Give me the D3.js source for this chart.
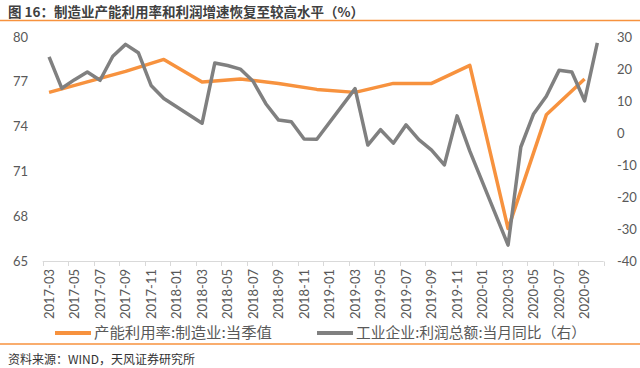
<!DOCTYPE html>
<html>
<head>
    <meta charset="utf-8">
    <style>
        body { margin: 0; background: #fff; }
        svg { display: block; }
    </style>
</head>
<body onload='init()'>
    <svg width="640" height="368"></svg>
    <script src="https://d3js.org/d3.v7.min.js"></script>
    <script>
        // months on the category axis (2017-03 .. 2020-10)
        var months = ["2017-03", "2017-04", "2017-05", "2017-06", "2017-07", "2017-08", "2017-09", "2017-10",
            "2017-11", "2017-12", "2018-01", "2018-02", "2018-03", "2018-04", "2018-05", "2018-06", "2018-07",
            "2018-08", "2018-09", "2018-10", "2018-11", "2018-12", "2019-01", "2019-02", "2019-03", "2019-04",
            "2019-05", "2019-06", "2019-07", "2019-08", "2019-09", "2019-10", "2019-11", "2019-12", "2020-01",
            "2020-02", "2020-03", "2020-04", "2020-05", "2020-06", "2020-07", "2020-08", "2020-09", "2020-10"];

        // 产能利用率:制造业:当季值 (left axis, quarterly)
        var capacity = [76.3, null, null, 77.0, null, null, 77.7, null, null, 78.5, null, null,
            77.0, null, null, 77.2, null, null, 76.9, null, null, 76.5, null, null,
            76.3, null, null, 76.9, null, null, 76.9, null, null, 78.1, null, null,
            67.2, null, null, 74.8, null, null, 77.2, null];

        // 工业企业:利润总额:当月同比 (right axis)
        var profit = [23.8, 14.0, 16.7, 19.1, 16.5, 24.0, 27.7, 25.1, 14.9, 10.8, null, null,
            3.1, 21.9, 21.1, 20.0, 16.2, 9.2, 4.1, 3.6, -1.8, -1.9, null, null,
            13.9, -3.7, 1.1, -3.1, 2.6, -2.0, -5.3, -9.9, 5.4, -5.6, null, null,
            -34.9, -4.3, 6.0, 11.5, 19.6, 19.1, 10.1, 28.2];

        var leftTicks = [65, 68, 71, 74, 77, 80];
        var rightTicks = [-40, -30, -20, -10, 0, 10, 20, 30];

        function init() {
            var svg = d3.select("svg");
            var orange = "#F7923E", grey = "#808080";
            var numFont = "Lato, 'Noto Sans', sans-serif";
            var cjkFont = "'Noto Sans CJK SC', sans-serif";

            var xScale = d3.scaleBand().domain(months).range([42.7, 603.7]);
            var yLeft = d3.scaleLinear().domain([65, 80]).range([261.5, 37]);
            var yRight = d3.scaleLinear().domain([-40, 30]).range([261.5, 37]);
            var cx = function (i) { return xScale(months[i]) + xScale.bandwidth() / 2; };

            // title + orange rules
            svg.append("text")
                .attr("x", 8).attr("y", 17)
                .style("font-family", cjkFont)
                .style("font-size", "13.5px")
                .style("font-weight", "bold")
                .style("fill", "#404040")
                .text("图 16：制造业产能利用率和利润增速恢复至较高水平（%）");

            svg.append("line").attr("x1", 0).attr("x2", 640).attr("y1", 20.5).attr("y2", 20.5)
                .style("stroke", orange).style("stroke-width", 1.5);
            svg.append("line").attr("x1", 0).attr("x2", 640).attr("y1", 344).attr("y2", 344)
                .style("stroke", orange).style("stroke-width", 1.5);

            svg.append("text")
                .attr("x", 8).attr("y", 364)
                .style("font-family", cjkFont)
                .style("font-size", "12px")
                .style("fill", "#333")
                .text("资料来源：WIND，天风证券研究所");

            // left axis labels
            svg.append("g")
                .selectAll("text")
                .data(leftTicks)
                .enter()
                .append("text")
                .attr("x", 28)
                .attr("y", function (d) { return yLeft(d); })
                .attr("dy", "0.35em")
                .attr("text-anchor", "end")
                .style("font-family", numFont)
                .style("font-size", "13px")
                .style("fill", "#595959")
                .text(function (d) { return d; });

            // right axis labels
            svg.append("g")
                .selectAll("text")
                .data(rightTicks)
                .enter()
                .append("text")
                .attr("x", 617)
                .attr("y", function (d) { return yRight(d); })
                .attr("dy", "0.35em")
                .style("font-family", numFont)
                .style("font-size", "13px")
                .style("fill", "#595959")
                .text(function (d) { return d; });

            // x axis: baseline, ticks every two months between categories
            var axisG = svg.append("g");
            axisG.append("line")
                .attr("x1", xScale.range()[0]).attr("x2", xScale.range()[1])
                .attr("y1", 261.5).attr("y2", 261.5)
                .style("stroke", "#d9d9d9").style("stroke-width", 1);

            var tickIdx = d3.range(0, months.length + 1, 2);
            axisG.selectAll(".tick")
                .data(tickIdx)
                .enter()
                .append("line")
                .attr("class", "tick")
                .attr("x1", function (i) { return Math.round(xScale.range()[0] + i * xScale.step()) + 0.5; })
                .attr("x2", function (i) { return Math.round(xScale.range()[0] + i * xScale.step()) + 0.5; })
                .attr("y1", 261.5).attr("y2", 266)
                .style("stroke", "#d9d9d9").style("stroke-width", 1);

            axisG.selectAll(".lbl")
                .data(months.filter(function (m, i) { return i % 2 === 0; }))
                .enter()
                .append("text")
                .attr("class", "lbl")
                .attr("transform", function (m) {
                    return "translate(" + (xScale(m) + xScale.bandwidth() / 2) + ",269)rotate(-90)";
                })
                .attr("dy", "0.35em")
                .attr("text-anchor", "end")
                .style("font-family", numFont)
                .style("font-size", "13px")
                .style("fill", "#595959")
                .text(function (m) { return m; });

            // lines (gaps are bridged, like the source chart)
            var capPts = [], profPts = [];
            capacity.forEach(function (v, i) { if (v !== null) capPts.push([cx(i), yLeft(v)]); });
            profit.forEach(function (v, i) { if (v !== null) profPts.push([cx(i), yRight(v)]); });

            var line = d3.line();

            svg.append("path")
                .attr("d", line(capPts))
                .style("fill", "none")
                .style("stroke", orange)
                .style("stroke-width", 3.5)
                .style("stroke-linejoin", "round");

            svg.append("path")
                .attr("d", line(profPts))
                .style("fill", "none")
                .style("stroke", grey)
                .style("stroke-width", 3.5)
                .style("stroke-linejoin", "round");

            // legend
            var legend = [
                { name: "产能利用率:制造业:当季值", color: orange, x: 55, w: 178 },
                { name: "工业企业:利润总额:当月同比（右）", color: grey, x: 317, w: 230 }
            ];
            var lg = svg.append("g").selectAll("g").data(legend).enter().append("g");
            lg.append("line")
                .attr("x1", function (d) { return d.x; })
                .attr("x2", function (d) { return d.x + 36; })
                .attr("y1", 333).attr("y2", 333)
                .style("stroke", function (d) { return d.color; })
                .style("stroke-width", 4);
            lg.append("text")
                .attr("x", function (d) { return d.x + 39; })
                .attr("y", 333)
                .attr("dy", "0.36em")
                .attr("textLength", function (d) { return d.w; })
                .attr("lengthAdjust", "spacingAndGlyphs")
                .style("font-family", cjkFont)
                .style("font-size", "14.5px")
                .style("fill", "#595959")
                .text(function (d) { return d.name; });
        }
    </script>
</body>
</html>
